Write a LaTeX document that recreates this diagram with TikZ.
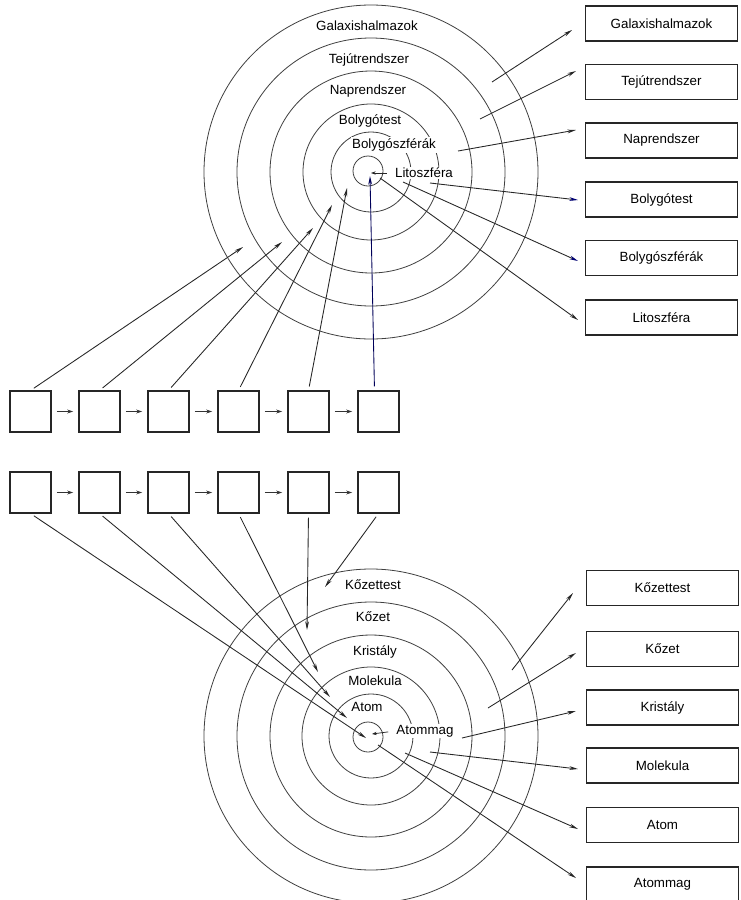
\documentclass[tikz,border=0pt]{standalone}
\usepackage{fontspec}
\setmainfont{Liberation Sans}
\usetikzlibrary{arrows.meta}
\begin{document}
\begin{tikzpicture}[x=0.75pt,y=-0.75pt,
  ring/.style={draw=black!75, line width=0.6pt},
  lbl/.style={font=\fontsize{10}{12}\selectfont, inner sep=1pt},
  lblw/.style={lbl, fill=white},
  tag/.style={draw=black!85, line width=0.8pt, minimum width=114.5pt,
    minimum height=26.25pt, inner sep=0pt, font=\fontsize{10}{12}\selectfont},
  cell/.style={draw=black!85, line width=0.8pt, minimum size=30.75pt, inner sep=0pt},
  link/.style={draw=black!85, line width=0.65pt, -{Stealth[length=6.5pt,width=2.8pt]}},
  bluelink/.style={draw=black!85, line width=0.65pt,
    -{Stealth[length=6.5pt,width=2.8pt,color=blue!45!black]}},
  chain/.style={draw=black!80, line width=0.7pt, -{Stealth[length=4.5pt,width=3pt]},
    shorten <=4pt, shorten >=4pt},
  tiny/.style={draw=black!85, line width=0.55pt, -{Stealth[length=3.5pt,width=2.5pt]},
    shorten <=5pt},
]
\useasboundingbox[fill=white] (0,0) rectangle (740,900);

% ---------- upper system of rings ----------
\coordinate (U) at (371,172);
\foreach \r in {167,134,101,68,40}
  \draw[ring] (U) circle[radius=\r*0.75pt];
\draw[ring] (368,171) circle[radius=15*0.75pt];

\node[lbl]  (uGal) at (367,26)  {Galaxishalmazok};
\node[lbl]  (uTej) at (369,60)  {Tejútrendszer};
\node[lbl]  (uNap) at (368,91)  {Naprendszer};
\node[lblw] (uBol) at (370,121) {Bolygótest};
\node[lblw] (uBsz) at (394,145) {Bolygószférák};
\node[lblw] (uLit) at (424,173) {Litoszféra};
\coordinate (uCore) at (371,173);
\draw[tiny] (uLit.west) -- (uCore);

% boxes on the right, upper group
\node[tag] (bGal) at (661.5,23.5)  {Galaxishalmazok};
\node[tag] (bTej) at (661.5,82)    {Tejútrendszer};
\node[tag] (bNap) at (661.5,140.5) {Naprendszer};
\node[tag] (bBol) at (661.5,199.5) {Bolygótest};
\node[tag] (bBsz) at (661.5,258)   {Bolygószférák};
\node[tag] (bLit) at (661.5,317.5) {Litoszféra};

% outgoing arrows, upper group
\coordinate (oGal) at (492,82);   \coordinate (eGal) at (572,30);
\coordinate (oTej) at (480,119);  \coordinate (eTej) at (576,71);
\coordinate (oNap) at (458,151);  \coordinate (eNap) at (576,130);
\coordinate (oBol) at (430,183);  \coordinate (eBol) at (578,200);
\coordinate (oBsz) at (403,182);  \coordinate (eBsz) at (578,261);
\coordinate (oLit) at (380,178);  \coordinate (eLit) at (578,320);
\draw[link] (oGal) -- (eGal);
\draw[link] (oTej) -- (eTej);
\draw[link] (oNap) -- (eNap);
\draw[bluelink] (oBol) -- (eBol);
\draw[bluelink] (oBsz) -- (eBsz);
\draw[link] (oLit) -- (eLit);

% ---------- two rows of squares ----------
\foreach \i/\x in {1/30.5,2/99.5,3/168.5,4/238.5,5/308.5,6/378.5} {
  \node[cell] (s\i) at (\x,411.5) {};
  \node[cell] (q\i) at (\x,492.5) {};
}
\foreach \i/\j in {1/2,2/3,3/4,4/5,5/6} {
  \draw[chain] (s\i.east) -- (s\j.west);
  \draw[chain] (q\i.east) -- (q\j.west);
}

% arrows from the upper row into the upper rings
\coordinate (h1) at (243,247);
\coordinate (h2) at (282,242);
\coordinate (h3) at (313,228);
\coordinate (h4) at (332,205);
\coordinate (h5) at (347,188);
\coordinate (h6) at (370,176);
\draw[link, shorten <=3pt] (s1.north) -- (h1);
\draw[link, shorten <=3pt] (s2.north) -- (h2);
\draw[link, shorten <=3pt] (s3.north) -- (h3);
\draw[link, shorten <=3pt] (s4.north) -- (h4);
\draw[link, shorten <=3pt] (s5.north) -- (h5);
\draw[link, draw=blue!35!black, shorten <=3pt] ([xshift=-3pt]s6.north) -- (h6);

% ---------- lower system of rings ----------
\coordinate (L) at (371,736);
\foreach \r in {167,134,101,69,42}
  \draw[ring] (L) circle[radius=\r*0.75pt];
\draw[ring] (368,737) circle[radius=15*0.75pt];

\node[lbl]  (lKzt) at (373,585) {Kőzettest};
\node[lbl]  (lKoz) at (373,617) {Kőzet};
\node[lbl]  (lKri) at (375,652) {Kristály};
\node[lbl]  (lMol) at (375,681) {Molekula};
\node[lblw] (lAtm) at (367,707) {Atom};
\node[lblw] (lMag) at (425,731) {Atommag};
\coordinate (lCore) at (372,734);
\draw[tiny] (lMag.west) -- (lCore);

% boxes on the right, lower group
\node[tag] (cKzt) at (662.5,588)   {Kőzettest};
\node[tag] (cKoz) at (662.5,649)   {Kőzet};
\node[tag] (cKri) at (662.5,707.5) {Kristály};
\node[tag] (cMol) at (662.5,765.5) {Molekula};
\node[tag] (cAtm) at (662.5,825)   {Atom};
\node[tag] (cMag) at (662.5,884.5) {Atommag};

% outgoing arrows, lower group
\coordinate (pKzt) at (512,670);  \coordinate (fKzt) at (573,593);
\coordinate (pKoz) at (488,708);  \coordinate (fKoz) at (576,653);
\coordinate (pKri) at (462,738);  \coordinate (fKri) at (576,711);
\coordinate (pMol) at (430,752);  \coordinate (fMol) at (578,769);
\coordinate (pAtm) at (405,753);  \coordinate (fAtm) at (578,829);
\coordinate (pMag) at (378,745);  \coordinate (fMag) at (576,878);
\draw[link] (pKzt) -- (fKzt);
\draw[link] (pKoz) -- (fKoz);
\draw[link] (pKri) -- (fKri);
\draw[link] (pMol) -- (fMol);
\draw[link] (pAtm) -- (fAtm);
\draw[link] (pMag) -- (fMag);

% arrows from the lower row into the lower rings
\coordinate (g1) at (366,738);
\coordinate (g2) at (347,718);
\coordinate (g3) at (330,697);
\coordinate (g4) at (318,672);
\coordinate (g5) at (307,630);
\coordinate (g6) at (325,587);
\draw[link, shorten <=3pt] (q1.south) -- (g1);
\draw[link, shorten <=3pt] (q2.south) -- (g2);
\draw[link, shorten <=3pt] (q3.south) -- (g3);
\draw[link, shorten <=3pt] (q4.south) -- (g4);
\draw[link, shorten <=3pt] (q5.south) -- (g5);
\draw[link, shorten <=3pt] (q6.south) -- (g6);
\end{tikzpicture}
\end{document}
